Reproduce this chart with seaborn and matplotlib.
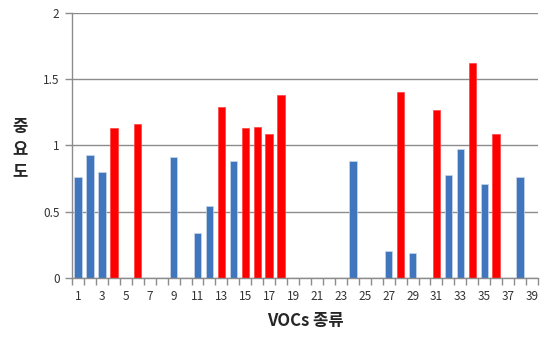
import numpy as np
import pandas as pd
import seaborn as sns
import matplotlib.pyplot as plt

# VOCs 1..39, importance (0 = not selected), red = key compounds
vocs = list(range(1, 40))
importance = [0.76, 0.93, 0.80, 1.13, 0, 1.16, 0, 0, 0.91, 0,
              0.34, 0.54, 1.29, 0.88, 1.13, 1.14, 1.09, 1.38, 0, 0,
              0, 0, 0, 0.88, 0, 0, 0.20, 1.40, 0.19, 0,
              1.27, 0.78, 0.97, 1.62, 0.71, 1.09, 0, 0.76, 0]
key_voc = [4, 6, 13, 15, 16, 17, 18, 28, 31, 34, 36]

df = pd.DataFrame({"voc": [str(v) for v in vocs], "imp": importance})
df["grp"] = np.where(df["voc"].astype(int).isin(key_voc), "key", "other")

sns.set_style("white")
plt.rcParams['font.family'] = ['Noto Sans CJK KR', 'DejaVu Sans']

fig = plt.figure(figsize=(5.44, 3.39), dpi=100)
ax = fig.add_axes([0.1324, 0.180, 0.8566, 0.7817])

sns.barplot(data=df, x="voc", y="imp", hue="grp", order=df["voc"],
            palette={"key": "#FF0000", "other": "#4076BE"}, dodge=False,
            saturation=1, width=0.62, legend=False,
            edgecolor="#C9D6EA", linewidth=0.5, ax=ax)
for p in ax.patches:
    if p.get_facecolor()[0] > 0.9:
        p.set_edgecolor("#FF4040")

ax.set_xlim(-0.5, 38.5)
ax.set_ylim(0, 2)
ax.set_yticks([0, 0.5, 1, 1.5, 2])
ax.set_yticklabels(["0", "0.5", "1", "1.5", "2"])
ax.yaxis.grid(True, color="#8C8C8C", linewidth=1)
ax.set_axisbelow(True)

# category labels every other, tick marks at category boundaries
ax.set_xticks(range(0, 39, 2))
ax.set_xticklabels([str(v) for v in vocs[::2]])
ax.set_xticks(np.arange(-0.5, 39, 1), minor=True)
ax.tick_params(bottom=True, left=True, which="both")
ax.tick_params(axis="x", which="major", length=0, pad=9, labelsize=8.5, labelcolor="#333333")
ax.tick_params(axis="x", which="minor", length=5, width=1, color="#8C8C8C", direction="out")
ax.tick_params(axis="y", length=5, width=1, color="#8C8C8C", direction="out",
               labelsize=8.5, labelcolor="#333333", pad=4)

for s in ["top", "right"]:
    ax.spines[s].set_visible(False)
for s in ["left", "bottom"]:
    ax.spines[s].set_color("#8C8C8C")
    ax.spines[s].set_linewidth(1)

ax.set_xlabel("VOCs 종류", fontsize=12, fontweight="bold", labelpad=6)
ax.set_ylabel("")
fig.text(0.037, 0.56, "중\n요\n도", fontsize=12, fontweight="bold",
         ha="center", va="center", linespacing=1.3)

fig.savefig("out.png", dpi=100)
